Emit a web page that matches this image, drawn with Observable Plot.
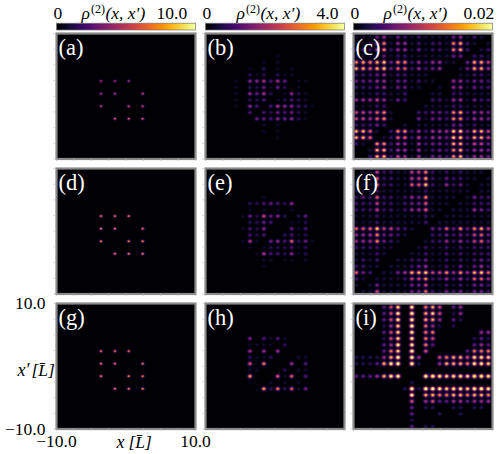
<!DOCTYPE html>
<html><head><meta charset="utf-8">
<script src="https://cdn.jsdelivr.net/npm/d3@7"></script>
<script src="https://cdn.jsdelivr.net/npm/@observablehq/plot@0.6"></script>
<style>
html,body{margin:0;padding:0;background:#fff}
#fig{position:relative;width:498px;height:454px;overflow:hidden}
#fig svg{position:absolute;background:transparent;max-width:none}
</style></head><body><div id="fig"></div>
<script>
// Peak heights on each lattice site, digit per site, top row = x' high, left = x low.
const Z="00000000000000000000";
const panelA=[Z,Z,Z,Z,Z,Z,Z,"00000070707000000000",Z,"00000070700080000000",Z,"00000080008080000000",Z,"00000000909090000000",Z,Z,Z,Z,Z,Z];
const panelD=[Z,Z,Z,Z,Z,Z,Z,"00000090909000000000",Z,"00000090900090000000",Z,"00000090009090000000",Z,"00000000909090000000",Z,Z,Z,Z,Z,Z];
const panelG=[Z,Z,Z,Z,Z,Z,Z,"00000090909000000000",Z,"00000090900090000000",Z,"00000090009090000000",Z,"00000000909090000000",Z,Z,Z,Z,Z,Z];
const panelB=[Z,Z,Z,"00000000001000000000","00000000101000000000","00000010201010000000","00000021202110000000","00001055636401100000","00001022414201000000","00001054620152100000","00001022301232100000","00001053036553210000","00000030324342100000","00000004435452100000","00000000101000000000","00000000101000000000","00000000001000000000",Z,Z,Z];
const panelE=[Z,Z,Z,Z,"00000000100000000000","00000022343250000000","00000010101010000000","00000142745202400000","00000022430011200000","00000132500041300000","00000032300231200000","00000161045382410000","00000010122231200000","00000001633251200000","00000000110110100000","00000000100000000000",Z,Z,Z,Z];
const panelH=[Z,Z,Z,Z,Z,"00000040313100000000","00000011110200000000","00000050505000000000","00000021120001100000","00000070800050300000","00000011000201100000","00000090007170300000","00000000010101000000","00000000928271400000",Z,Z,Z,Z,Z,Z];
const panelC=["11134132121111341210","11257144121221782101","22257244131221782012","11123122111111330221","78789377242441103885","88689366242340013884","22234122111000011221","33344133121100442332","22234133110010441322","11122112000110221111","44454132000221441322","11122000001111221111","55467100022332782443","55467100031332772443","22232001011111331211","88610277242444993885","88601266252443993885","21077244142332882553","00188244141232782443","00288254141332782443"];
const panelF=["01152211557212121110","01162211558213221101","11162211669214231011","11121111112111111011","23262212437111101322","22252212336111011222","22252212446110111432","11121111112101111111","11121111112011111111","66695532100336373785","44473321000223232563","44473210001224242563","22221100012112121222","11121000112112121222","12120011223112121232","22110111234112131342","63201134889557474896","21011112557224242664","10131111335112121332","01151111336213231332"];
const panelI=["00002470805640230000","00002480906740130000","00002480906630210000","00001370905310100000","00002470805500000033","00001470805400000121","00002380805200000232","00002570904000002555","11113690930045664887","11126890910036665887",Z,"22236890009987887998","00000000100000000000","00000001919987887998","00000000806655665665","00000000403422332333","00000000201100110110","00000000200010010000","00000000100000000000","00000000201100000000"];
const panelNames=["(a)","(b)","(c)","(d)","(e)","(f)","(g)","(h)","(i)"];
const panelRows=[panelA,panelB,panelC,panelD,panelE,panelF,panelG,panelH,panelI];
const colorMax=[10,4,0.02];
const colorMaxLabels=["10.0","4.0","0.02"];
const digitShare=[0.085,0.095,0.125,0.1,0.095,0.125,0.1,0.105,0.17];   // share of the colour range per digit, by panel
const spotWidth=[0.13,0.19,0.2];
const axisRange=[-10,10];
const axisTicks=[-10,-7.5,-5,-2.5,0,2.5,5,7.5,10];

// layout (frame box, px)
const colX=[56,205,353], rowY=[33,168,303], boxW=139, boxH=125.5;
const serif="Liberation Serif", grey="#8a8a8a";
const fig=document.getElementById("fig");

function txt(t,x,y,o={}){ return Plot.text([t],{text:d=>d,frameAnchor:"top-left",dx:x,dy:y,lineAnchor:"bottom",textAnchor:"start",fontFamily:serif,fontSize:17.5,fill:"black",...o}); }

function place(p,l,t){ p.style.left=l+"px"; p.style.top=t+"px"; fig.appendChild(p); }

function panel(idx){
  const c=idx%3,r=Math.floor(idx/3),rows=panelRows[idx],max=colorMax[c],unit=digitShare[idx]*max,s=spotWidth[c];
  const amp=(i,k)=>{ if(i<0||i>19||k<0||k>19) return 0; return +rows[19-k][i]; };
  const fill=(x,y)=>{
    const i0=Math.round(x+9.6),k0=Math.round(y+9.6);let v=0;
    for(let i=i0-1;i<=i0+1;i++)for(let k=k0-1;k<=k0+1;k++){
      const a=amp(i,k); if(!a) continue;
      const dx=x-(i-9.6),dy=y-(k-9.6);
      v+=a*unit*Math.exp(-(dx*dx+dy*dy)/(2*s*s));
    }
    return v;
  };
  const isG=idx===6;
  const ml=isG?56:8,mb=isG?26:6,mt=isG?12:6,mr=isG?20:6;
  const marks=[
    Plot.raster({fill,x1:-10,x2:10,y1:-10,y2:10,pixelSize:1,imageRendering:"auto"}),
    Plot.frame({stroke:grey,strokeWidth:2.2}),
    Plot.axisX({anchor:"bottom",ticks:axisTicks,tickSize:2.5,tickPadding:0,tickFormat:()=>"",stroke:"#bbb",strokeWidth:.7}),
    Plot.axisY({anchor:"left",ticks:axisTicks,tickSize:2.5,tickPadding:0,tickFormat:()=>"",stroke:"#bbb",strokeWidth:.7}),
    txt(panelNames[idx],2,21,{fill:"white",fontSize:22.5})
  ];
  if(isG){
    const f=d3.format(".1f");
    marks.push(
      Plot.axisX({anchor:"bottom",ticks:axisRange,tickSize:0,tickPadding:6,tickFormat:f,fontFamily:serif,fontSize:17.5,fill:"black",stroke:"none"}),
      Plot.axisY({anchor:"left",ticks:axisRange,tickSize:0,tickPadding:11,tickFormat:f,fontFamily:serif,fontSize:17.5,fill:"black",stroke:"none"}),
      txt("x",60,144,{fontStyle:"italic",fontSize:18}),
      txt("[L\u0304]",72,144,{fontStyle:"italic"}),
      txt("x\u2032",-39,72,{fontStyle:"italic",fontSize:18}),
      txt("[L\u0304]",-25,72,{fontStyle:"italic"})
    );
  }
  const p=Plot.plot({width:boxW+ml+mr,height:boxH+mt+mb,marginLeft:ml,marginRight:mr,marginTop:mt,marginBottom:mb,
    x:{domain:axisRange,axis:null},y:{domain:axisRange,axis:null},
    color:{type:"linear",scheme:"inferno",domain:[0,max],clamp:true,legend:false},
    marks});
  place(p,colX[c]-ml,rowY[r]-mt);
}

function colorbar(c){
  const max=colorMax[c],mt=22.7,mb=3,ml=8,mr=8;
  const titleX=[25,31,30][c],maxX=[100,111,110][c];
  const p=Plot.plot({width:boxW+ml+mr,height:6.8+mt+mb,marginTop:mt,marginBottom:mb,marginLeft:ml,marginRight:mr,
    x:{domain:[0,max],axis:null},y:{domain:[0,1],axis:null},
    color:{type:"linear",scheme:"inferno",domain:[0,max]},
    marks:[
      Plot.raster({fill:(x)=>x,x1:0,x2:max,y1:0,y2:1,width:139,height:1,imageRendering:"auto"}),
      Plot.frame({stroke:"#777",strokeWidth:.7}),
      Plot.axisX({anchor:"top",ticks:d3.range(0,7).map(i=>i*max/6),tickSize:1.5,tickPadding:0,tickFormat:()=>"",stroke:"#aaa",strokeWidth:.6}),
      txt("0",-3,-4),
      txt("\u03c1",titleX,-4,{fontStyle:"italic"}),
      txt("(2)",titleX+9.5,-10,{fontSize:12}),
      txt("(x, x\u2032)",titleX+24,-4,{fontStyle:"italic"}),
      txt(colorMaxLabels[c],maxX,-4)
    ]});
  place(p,colX[c]-ml,0);
}
[0,1,2].forEach(colorbar);
panelRows.forEach((_,i)=>panel(i));
</script></body></html>
